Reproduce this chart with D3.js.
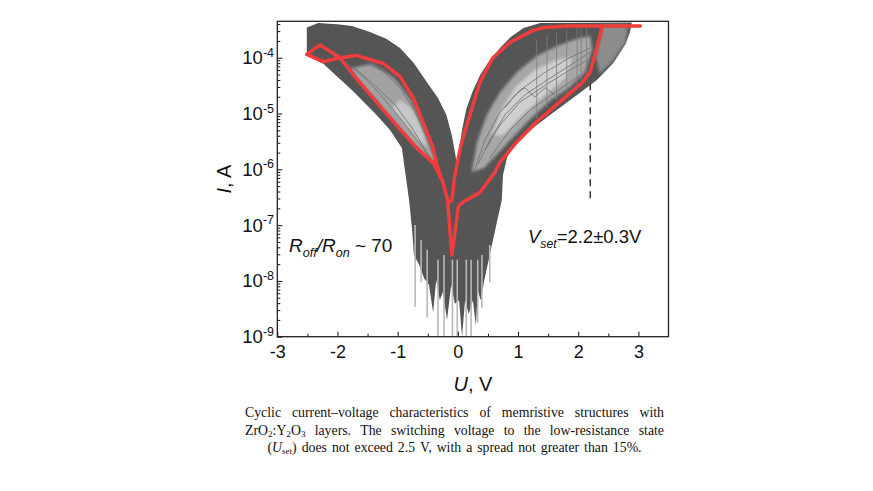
<!DOCTYPE html>
<html>
<head>
<meta charset="utf-8">
<script src="https://cdn.jsdelivr.net/npm/d3@7"></script>
<style>
  body { margin: 0; background: #fff; }
  svg { display: block; font-family: "Liberation Sans", Arial, sans-serif; }
</style>
</head>
<body>
<svg id="viz" width="873" height="491"></svg>
<script>
// ---- data: [U (V), I (A)] ----
const xTicks = [-3, -2, -1, 0, 1, 2, 3];
const xMinorTicks = [-2.5, -1.5, -0.5, 0.5, 1.5, 2.5];
const yTickExps = [-9, -8, -7, -6, -5, -4];

// one highlighted cycle
const redCycle = [
  [0.01, 2.2e-7], [0.09, 2.6e-7], [0.17, 2.9e-7], [0.37, 3.9e-7], [0.62, 9.0e-7],
  [0.70, 1.35e-6], [0.98, 3.1e-6], [1.31, 7.1e-6], [1.69, 1.6e-5], [2.08, 3.7e-5],
  [2.20, 5.6e-5], [2.31, 1.5e-4], [2.40, 3.7e-4], [3.03, 3.7e-4], [1.81, 3.7e-4],
  [1.45, 3.5e-4], [1.25, 3.1e-4], [0.87, 1.9e-4], [0.58, 9.9e-5], [0.37, 3.7e-5],
  [0.20, 9.4e-6], [0.05, 2.7e-6], [-0.05, 7.9e-7], [-0.10, 2.7e-7], [-0.16, 2.6e-7],
  [-0.25, 6.0e-7], [-0.35, 1.2e-6], [-0.41, 2.4e-6], [-0.58, 7.1e-6], [-0.74, 1.9e-5],
  [-0.96, 4.6e-5], [-1.24, 7.9e-5], [-1.69, 1.1e-4], [-1.96, 1.0e-4], [-2.29, 1.7e-4],
  [-2.51, 1.15e-4], [-2.24, 8.5e-5], [-1.96, 1.0e-4], [-1.69, 4.3e-5], [-1.35, 1.6e-5],
  [-1.02, 6.2e-6], [-0.68, 2.4e-6], [-0.41, 1.3e-6], [-0.25, 6.0e-7], [-0.17, 2.8e-7],
  [-0.10, 2.9e-8], [0.01, 2.2e-7]
];

// outline of the dense bundle of all other cycles
const bundleOutline = [
  [-2.51, 3.5e-4], [-2.32, 4.2e-4], [-2.01, 4.0e-4], [-1.76, 3.7e-4], [-1.46, 2.9e-4],
  [-1.19, 2.2e-4], [-0.96, 1.5e-4], [-0.73, 8.0e-5], [-0.52, 3.7e-5], [-0.33, 1.9e-5],
  [-0.19, 9.4e-6], [-0.10, 4.1e-6], [-0.04, 1.8e-6], [-0.01, 1.05e-6], [0.02, 2.2e-6],
  [0.07, 5.1e-6], [0.14, 1.2e-5], [0.24, 2.4e-5], [0.37, 4.9e-5], [0.53, 9.1e-5],
  [0.70, 1.5e-4], [0.88, 2.35e-4], [1.09, 3.4e-4], [1.37, 4.2e-4], [2.89, 4.3e-4],
  [2.86, 2.9e-4], [2.79, 1.8e-4], [2.58, 8.0e-5], [2.31, 4.0e-5], [1.98, 2.15e-5],
  [1.53, 9.4e-6], [1.25, 5.5e-6], [0.98, 3.1e-6], [0.82, 1.66e-6], [0.75, 7.9e-7],
  [0.73, 2.8e-7], [0.62, 8.2e-8], [0.53, 2.9e-8], [0.44, 1.04e-8], [0.38, 4.5e-9],
  [0.33, 6.9e-9], [0.30, 1.56e-9], [0.25, 4.5e-9], [0.18, 2.55e-9], [0.12, 4.5e-9],
  [0.07, 1.0e-9], [0.02, 4.5e-9], [-0.05, 3.9e-9], [-0.11, 8.5e-9], [-0.18, 2.0e-9],
  [-0.25, 6.3e-9], [-0.30, 4.5e-9], [-0.36, 1.04e-8], [-0.41, 2.7e-9], [-0.48, 8.5e-9],
  [-0.56, 1.1e-8], [-0.64, 1.9e-8], [-0.73, 2.9e-8], [-0.76, 8.2e-8], [-0.81, 2.8e-7],
  [-0.88, 9.7e-7], [-0.93, 2.4e-6], [-1.13, 5.1e-6], [-1.35, 9.4e-6], [-1.74, 2.5e-5],
  [-2.24, 7.9e-5], [-2.51, 1.1e-4]
];

// sparser (lighter) parts inside the bundle
const leftHollow = [
  [-1.79, 6.5e-5], [-1.43, 7.7e-5], [-1.07, 4.5e-5], [-0.80, 1.9e-5], [-0.63, 7.7e-6],
  [-0.46, 2.7e-6], [-0.36, 1.35e-6], [-0.46, 1.5e-6], [-0.71, 2.6e-6], [-1.03, 6.5e-6],
  [-1.36, 1.75e-5], [-1.66, 4.0e-5]
];
const leftCore = [
  [-0.96, 1.75e-5], [-0.76, 1.2e-5], [-0.60, 5.5e-6], [-0.50, 2.4e-6], [-0.66, 3.35e-6],
  [-0.89, 7.0e-6], [-1.09, 1.26e-5]
];
const rightHollow = [
  [0.23, 9.0e-7], [0.32, 3.1e-6], [0.48, 9.4e-6], [0.70, 2.4e-5], [0.98, 5.5e-5],
  [1.31, 1.07e-4], [1.64, 1.6e-4], [1.98, 2.2e-4], [2.20, 2.45e-4], [2.23, 1.37e-4],
  [2.11, 5.5e-5], [1.86, 3.0e-5], [1.53, 1.7e-5], [1.15, 7.0e-6], [0.75, 2.4e-6],
  [0.43, 1.05e-6]
];
const rightCore = [
  [0.57, 4.1e-6], [0.70, 1.06e-5], [0.95, 2.9e-5], [1.28, 6.0e-5], [1.63, 9.1e-5],
  [1.90, 9.9e-5], [1.78, 4.3e-5], [1.45, 2.15e-5], [1.07, 9.4e-6], [0.75, 4.1e-6]
];
const setStreaks = [
  [2.41, 3.9e-4], [2.83, 3.9e-4], [2.79, 1.9e-4], [2.56, 8.4e-5], [2.36, 5.1e-5],
  [2.29, 1.07e-4]
];

// single cycles visible inside the sparse parts
const thinCurves = [
  [[0.33, 1.2e-6], [0.53, 3.35e-6], [0.78, 9.4e-6], [1.11, 2.15e-5], [1.53, 4.3e-5], [1.95, 8.4e-5], [2.20, 1.26e-4]],
  [[0.45, 2.2e-6], [0.70, 6.2e-6], [1.03, 1.6e-5], [1.45, 3.2e-5], [1.86, 6.0e-5], [2.16, 9.1e-5]],
  [[0.28, 9.7e-7], [0.45, 3.35e-6], [0.70, 1.06e-5], [1.03, 2.6e-5], [1.45, 5.5e-5], [1.86, 1.0e-4], [2.20, 1.5e-4]],
  [[0.53, 1.6e-6], [0.87, 5.1e-6], [1.20, 1.16e-5], [1.62, 2.4e-5], [2.03, 4.9e-5]],
  [[0.78, 1.26e-5], [0.95, 2.15e-5], [1.11, 2.9e-5], [1.28, 1.98e-5], [1.45, 2.9e-5], [1.61, 2.15e-5]],
  [[-1.87, 8.4e-5], [-1.54, 4.3e-5], [-1.21, 1.75e-5], [-0.91, 7.0e-6], [-0.66, 3.1e-6], [-0.46, 1.6e-6]],
  [[-1.54, 8.4e-5], [-1.21, 5.5e-5], [-0.93, 2.6e-5], [-0.71, 1.06e-5], [-0.54, 4.1e-6], [-0.41, 1.8e-6]],
  [[-1.71, 6.5e-5], [-1.38, 3.2e-5], [-1.04, 1.42e-5], [-0.76, 5.5e-6], [-0.54, 2.2e-6], [-0.38, 1.2e-6]],
  [[-1.29, 7.1e-5], [-0.99, 3.7e-5], [-0.76, 1.6e-5], [-0.60, 7.0e-6], [-0.46, 3.1e-6]]
];
const setJumps = [
  [[1.31, 2.1e-4], [1.31, 8.2e-6]],
  [[1.48, 2.55e-4], [1.48, 1.26e-5]],
  [[1.64, 2.8e-4], [1.64, 1.75e-5]],
  [[1.81, 3.1e-4], [1.81, 2.2e-5]],
  [[1.98, 3.4e-4], [1.98, 2.6e-5]],
  [[2.05, 3.5e-4], [2.05, 3.4e-5]],
  [[2.14, 3.5e-4], [2.14, 4.0e-5]]
];
// low-current dips near 0 V
const dips = [
  [[-0.71, 1.0e-7], [-0.71, 3.4e-9]],
  [[-0.61, 5.4e-8], [-0.61, 9.5e-9]],
  [[-0.51, 3.6e-8], [-0.51, 2.2e-9]],
  [[-0.33, 2.4e-8], [-0.33, 1.0e-9]],
  [[-0.23, 2.9e-8], [-0.23, 1.0e-9]],
  [[-0.09, 2.4e-8], [-0.09, 1.0e-9]],
  [[-0.01, 2.4e-8], [-0.01, 1.0e-9]],
  [[0.14, 2.4e-8], [0.14, 1.0e-9]],
  [[0.22, 2.4e-8], [0.22, 1.0e-9]],
  [[0.33, 2.4e-8], [0.33, 1.8e-9]],
  [[0.40, 2.9e-8], [0.40, 3.3e-9]],
  [[0.53, 4.4e-8], [0.53, 9.5e-9]]
];
const vsetMarker = [[2.2, 3.5e-5], [2.2, 2.7e-7]];

const captionLines = [
  "Cyclic current–voltage characteristics of memristive structures with",
  "ZrO_2:Y_2O_3 layers. The switching voltage to the low-resistance state",
  "(*U*_{set}) does not exceed 2.5 V, with a spread not greater than 15%."
];
const captionAlign = ["justify", "justify", "center"];

// ---- drawing ----
const svg = d3.select("#viz");
const x = d3.scaleLinear().domain([-3, 3.5]).range([277.3, 668.5]);
const y = d3.scaleLog().domain([1e-9, 4.5e-4]).range([336.7, 21.3]);
const [x0, x1] = x.range(), [y0, y1] = y.range();

const defs = svg.append("defs");
defs.append("clipPath").attr("id", "plotclip")
  .append("rect").attr("x", x0).attr("y", y1).attr("width", x1 - x0).attr("height", y0 - y1);
defs.append("filter").attr("id", "soft").attr("x", "-20%").attr("y", "-20%")
  .attr("width", "140%").attr("height", "140%")
  .append("feGaussianBlur").attr("stdDeviation", 1.8);

const line = d3.line().x(d => x(d[0])).y(d => y(d[1]));
const area = d3.line().x(d => x(d[0])).y(d => y(d[1])).curve(d3.curveLinearClosed);

const plot = svg.append("g").attr("clip-path", "url(#plotclip)");

plot.append("path").attr("d", area(bundleOutline)).attr("fill", "#555555");
const sparse = plot.append("g").attr("filter", "url(#soft)");
sparse.append("path").attr("d", area(leftHollow)).attr("fill", "#a2a2a2");
sparse.append("path").attr("d", area(leftCore)).attr("fill", "#c8c8c8");
sparse.append("path").attr("d", area(rightHollow)).attr("fill", "#a6a6a6");
sparse.append("path").attr("d", area(rightCore)).attr("fill", "#cfcfcf");
sparse.append("path").attr("d", area(setStreaks)).attr("fill", "#8c8c8c");

plot.selectAll(".thin").data(thinCurves).join("path").attr("class", "thin")
  .attr("d", line).attr("fill", "none").attr("stroke", "#6e6e6e").attr("stroke-width", 0.8);
plot.selectAll(".jump").data(setJumps).join("path").attr("class", "jump")
  .attr("d", line).attr("fill", "none").attr("stroke", "#7e7e7e").attr("stroke-width", 0.8);
plot.selectAll(".dip").data(dips).join("path").attr("class", "dip")
  .attr("d", line).attr("fill", "none").attr("stroke", "#b8b8b8").attr("stroke-width", 1.6);

plot.append("path").attr("d", line(redCycle)).attr("fill", "none")
  .attr("stroke", "#f23c3c").attr("stroke-width", 3.5).attr("stroke-linejoin", "round");

svg.append("path").attr("d", line(vsetMarker)).attr("stroke", "#333")
  .attr("stroke-width", 1.5).attr("stroke-dasharray", "7,5");

// axes (ticks inside)
const xAxis = svg.append("g").attr("transform", `translate(0,${y0})`)
  .call(d3.axisBottom(x).tickValues(xTicks).tickSize(-5).tickSizeOuter(0).tickPadding(9)
    .tickFormat(d => String(d)));
svg.append("g").attr("transform", `translate(0,${y0})`)
  .call(d3.axisBottom(x).tickValues(xMinorTicks).tickSize(-3).tickSizeOuter(0).tickFormat(""));
xAxis.selectAll("text").attr("font-size", 18).attr("fill", "#111")
  .attr("font-family", "Liberation Sans, Arial, sans-serif");

const yMajor = yTickExps.map(e => Math.pow(10, e));
svg.append("g").attr("transform", `translate(${x0},0)`)
  .call(d3.axisLeft(y).tickValues(yMajor).tickSize(-5).tickSizeOuter(0).tickFormat(""));
const yMinor = y.ticks().filter(v => !yMajor.some(m => Math.abs(v / m - 1) < 1e-6));
svg.append("g").attr("transform", `translate(${x0},0)`)
  .call(d3.axisLeft(y).tickValues(yMinor).tickSize(-3).tickSizeOuter(0).tickFormat(""));
svg.selectAll(".domain").remove();
svg.selectAll(".tick line").attr("stroke", "#111");

const yLab = svg.append("g");
yTickExps.forEach(e => {
  const t = yLab.append("text").attr("x", 274).attr("y", y(Math.pow(10, e)) + 6.5)
    .attr("text-anchor", "end").attr("fill", "#111").attr("font-size", 18.5);
  t.append("tspan").text("10");
  t.append("tspan").text(String(e)).attr("font-size", 12.5).attr("dy", -7.5);
});

svg.append("rect").attr("x", x0).attr("y", y1).attr("width", x1 - x0).attr("height", y0 - y1)
  .attr("fill", "none").attr("stroke", "#222").attr("stroke-width", 1.3);

// axis titles
const xt = svg.append("text").attr("x", (x0 + x1) / 2).attr("y", 391)
  .attr("text-anchor", "middle").attr("font-size", 20).attr("fill", "#111");
xt.append("tspan").text("U").attr("font-style", "italic");
xt.append("tspan").text(", V");
const yt = svg.append("text").attr("transform", `translate(231,${(y0 + y1) / 2}) rotate(-90)`)
  .attr("text-anchor", "middle").attr("font-size", 20).attr("fill", "#111");
yt.append("tspan").text("I").attr("font-style", "italic");
yt.append("tspan").text(", A");

// rich text helpers: *italic*, _x or _{xyz} subscript
function parts(word) {
  const re = /\*([^*]+)\*|_\{([^}]*)\}|_(.)|([^*_]+)/g;
  let m, out = [];
  while ((m = re.exec(word))) {
    if (m[1]) out.push({ t: m[1], it: true });
    else if (m[2] || m[3]) out.push({ t: m[2] || m[3], sub: true });
    else out.push({ t: m[4] });
  }
  return out;
}
function rich(g, str, xp, yp, size, italicAll, drop = 0.28) {
  const t = g.append("text").attr("x", xp).attr("y", yp).attr("font-size", size);
  let low = false;
  parts(str).forEach(p => {
    const s = t.append("tspan").text(p.t);
    if (p.it || (italicAll && p.sub)) s.attr("font-style", "italic");
    if (p.sub) { s.attr("font-size", size * 0.66); if (!low) s.attr("dy", size * drop); low = true; }
    else if (low) { s.attr("dy", -size * drop); low = false; }
  });
  return t;
}

// annotations
const ann = svg.append("g").attr("fill", "#111");
rich(ann, "*R*_{off}*/R*_{on} ~ 70", 289, 252, 19, true);
rich(ann, "*V*_{set}=2.2±0.3V", 528, 243, 18.5, true);

// caption
const cap = svg.append("g").attr("font-family", "Liberation Serif, 'Times New Roman', serif")
  .attr("fill", "#111");
const capLeft = 245, capRight = 664, capSize = 13.8, capTop = 417, capStep = 17.5;
captionLines.forEach((ln, i) => {
  const words = ln.split(" ");
  const yy = capTop + i * capStep;
  const nodes = words.map(w => rich(cap, w, 0, yy, capSize, false, 0.18));
  const widths = nodes.map(n => n.node().getComputedTextLength());
  const total = d3.sum(widths);
  let gap, start;
  if (captionAlign[i] === "justify") {
    gap = (capRight - capLeft - total) / (words.length - 1);
    start = capLeft;
  } else {
    gap = capSize * 0.36;
    start = (capLeft + capRight) / 2 - (total + gap * (words.length - 1)) / 2;
  }
  let cx = start;
  nodes.forEach((n, k) => { n.attr("x", cx); cx += widths[k] + gap; });
});
</script>
</body>
</html>
